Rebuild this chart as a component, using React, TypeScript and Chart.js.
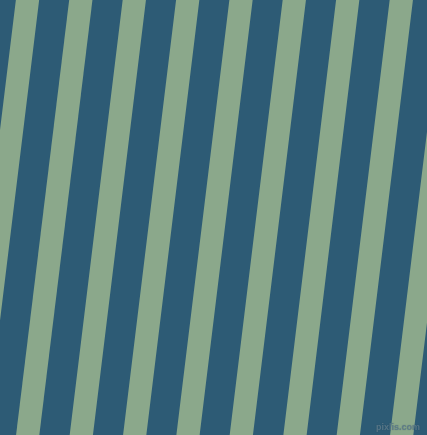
import React, { useEffect, useRef } from 'react';
import Chart from 'chart.js/auto';

// stripe centre x at the top edge and at the bottom edge of the picture
const stripeTopX = [27.5, 80.8, 134.3, 187.7, 241, 294.3, 347.7, 401.3, 454.7];
const stripeBottomX = [-25.6, 27.7, 81.3, 134.7, 188, 241.3, 295, 348.3, 401.7];
const edgeY = [0, 435];

const BLUE = '#2d5b75';
const GREEN = '#8ba88b';

export default function App() {
  const chartRef = useRef<HTMLCanvasElement>(null);
  const chartInstance = useRef<Chart | null>(null);

  useEffect(() => {
    document.body.style.margin = '0';
    if (!chartRef.current) return;
    const ctx = chartRef.current.getContext('2d');
    if (!ctx) return;

    const datasets = stripeTopX.map((top, i) => ({
      label: 'stripe ' + (i + 1),
      data: [
        { x: top, y: edgeY[0] },
        { x: stripeBottomX[i], y: edgeY[1] }
      ],
      borderColor: GREEN,
      borderWidth: 23.1,
      borderCapStyle: 'square' as const,
      pointRadius: 0,
      fill: false,
      tension: 0
    }));

    chartInstance.current = new Chart(ctx, {
      type: 'line',
      data: { datasets },
      options: {
        responsive: true,
        maintainAspectRatio: false,
        animation: false,
        layout: { padding: 0 },
        scales: {
          x: { type: 'linear', min: 0, max: 427, display: false },
          y: { type: 'linear', min: 0, max: 435, reverse: true, display: false }
        },
        plugins: {
          legend: { display: false },
          tooltip: { enabled: false }
        }
      }
    });

    return () => {
      if (chartInstance.current) {
        chartInstance.current.destroy();
        chartInstance.current = null;
      }
    };
  }, []);

  return (
    <div style={{ position: 'fixed', left: 0, top: 0, width: 427, height: 435, background: BLUE, overflow: 'hidden' }}>
      <canvas ref={chartRef} />
      <span
        style={{
          position: 'absolute',
          right: 7,
          bottom: 3,
          fontFamily: '"Liberation Sans", Arial, sans-serif',
          fontSize: 9,
          lineHeight: '10px',
          fontWeight: 'bold',
          color: 'rgba(95,125,140,0.85)',
          textShadow: '0 0 1px rgba(40,70,90,0.5)'
        }}
      >
        pixlis.com
      </span>
    </div>
  );
}
